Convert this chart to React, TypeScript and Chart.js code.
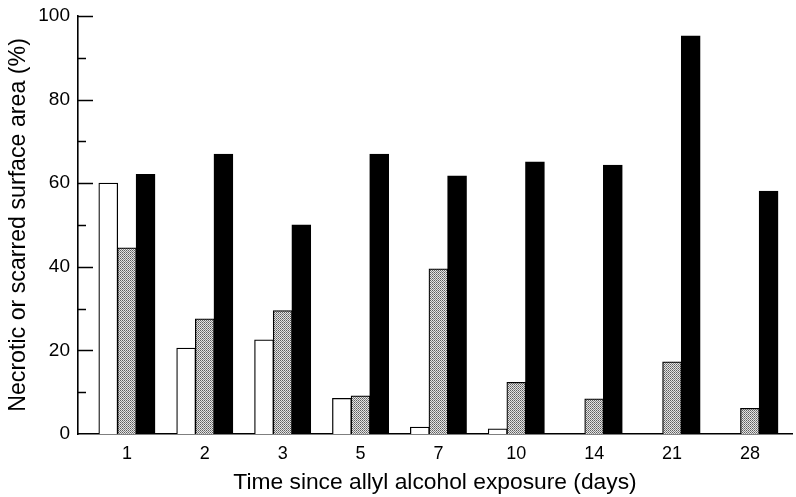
import React, { useEffect, useRef } from 'react';
import { Chart, registerables } from 'chart.js';

Chart.register(...registerables);

const categories = ['1', '2', '3', '5', '7', '10', '14', '21', '28'];
const seriesWhite = [60, 20.5, 22.5, 8.5, 1.6, 1.2, 0, 0, 0];
const seriesGray = [44.5, 27.5, 29.5, 9.1, 39.5, 12.3, 8.4, 17.2, 6.1];
const seriesBlack = [62.1, 66.9, 50, 66.9, 61.7, 65.1, 64.3, 95.2, 58.1];
const yMajorTicks = [0, 20, 40, 60, 80, 100];
const yMinorTicks = [10, 30, 50, 70, 90];

const FONT = "'Liberation Sans', Arial, Helvetica, sans-serif";

function makePattern(): CanvasPattern | string {
  const c = document.createElement('canvas');
  c.width = 2;
  c.height = 2;
  const g = c.getContext('2d');
  if (!g) return '#aaaaaa';
  g.fillStyle = '#e4e4e4';
  g.fillRect(0, 0, 2, 2);
  g.fillStyle = '#5e5e5e';
  g.fillRect(0, 0, 1, 1);
  g.fillStyle = '#858585';
  g.fillRect(1, 1, 1, 1);
  const p = g.createPattern(c, 'repeat');
  return p || '#aaaaaa';
}

const inwardTicks = {
  id: 'inwardTicks',
  afterDatasetsDraw(chart: any) {
    const { ctx, chartArea, scales } = chart;
    const y = scales.y;
    const x0 = chartArea.left;
    ctx.save();
    ctx.strokeStyle = '#000';
    ctx.lineWidth = 1.5;
    const draw = (v: number, len: number) => {
      const py = Math.round(y.getPixelForValue(v)) + 0.5;
      ctx.beginPath();
      ctx.moveTo(x0, py);
      ctx.lineTo(x0 + len, py);
      ctx.stroke();
    };
    yMajorTicks.filter((v) => v !== 0).forEach((v) => draw(v, 15));
    yMinorTicks.forEach((v) => draw(v, 8));
    ctx.restore();
  },
};

export default function App() {
  const ref = useRef<HTMLCanvasElement>(null);

  useEffect(() => {
    if (!ref.current) return;
    const pattern = makePattern();
    const toPts = (arr: number[]) => arr.map((v, i) => ({ x: i, y: v }));
    const chart = new Chart(ref.current, {
      type: 'bar',
      data: {
        datasets: [
          {
            label: 'A',
            data: toPts(seriesWhite),
            backgroundColor: '#ffffff',
            borderColor: '#000000',
            borderWidth: 1.25,
            inflateAmount: 0.5,
          },
          {
            label: 'B',
            data: toPts(seriesGray),
            backgroundColor: pattern as any,
            borderColor: '#000000',
            borderWidth: 1.25,
            inflateAmount: 0.5,
          },
          {
            label: 'C',
            data: toPts(seriesBlack),
            backgroundColor: '#000000',
            borderColor: '#000000',
            borderWidth: 1,
            inflateAmount: 0.5,
          },
        ] as any,
      },
      options: {
        animation: false,
        responsive: false,
        maintainAspectRatio: false,
        layout: { padding: { top: 16, right: 4, left: 0, bottom: 0 } },
        plugins: { legend: { display: false }, tooltip: { enabled: false } },
        datasets: { bar: { barPercentage: 1, categoryPercentage: 0.718 } } as any,
        scales: {
          x: {
            type: 'linear',
            offset: false,
            min: -0.628,
            max: 8.54,
            grid: { display: false, drawTicks: false },
            border: { display: true, color: '#000', width: 1.6 },
            afterBuildTicks: (s: any) => {
              s.ticks = categories.map((_, i) => ({ value: i }));
            },
            afterFit: (s: any) => {
              s.height = 63;
            },
            ticks: {
              autoSkip: false,
              maxRotation: 0,
              padding: 9,
              color: '#000',
              font: { family: FONT, size: 18 },
              callback: (v: any) => categories[v] ?? '',
            },
            title: {
              display: true,
              text: 'Time since allyl alcohol exposure (days)',
              color: '#000',
              font: { family: FONT, size: 22.8 },
              padding: { top: 0, bottom: 1 },
            },
          } as any,
          y: {
            min: 0,
            max: 100,
            grid: { display: false, drawTicks: true, tickLength: 8 },
            border: { display: true, color: '#000', width: 1.6 },
            afterBuildTicks: (s: any) => {
              s.ticks = yMajorTicks.map((v) => ({ value: v }));
            },
            afterFit: (s: any) => {
              s.width = 78;
            },
            ticks: {
              padding: 0,
              color: '#000',
              font: { family: FONT, size: 19 },
            },
            title: {
              display: true,
              text: 'Necrotic or scarred surface area (%)',
              color: '#000',
              font: { family: FONT, size: 23.2 },
              padding: { top: 5, bottom: 0 },
            },
          } as any,
        },
      },
      plugins: [inwardTicks],
    });
    return () => chart.destroy();
  }, []);

  return (
    <div style={{ position: 'absolute', left: 0, top: 0, width: 796, height: 497, background: '#fff' }}>
      <canvas ref={ref} width={796} height={497} style={{ display: 'block' }} />
    </div>
  );
}
